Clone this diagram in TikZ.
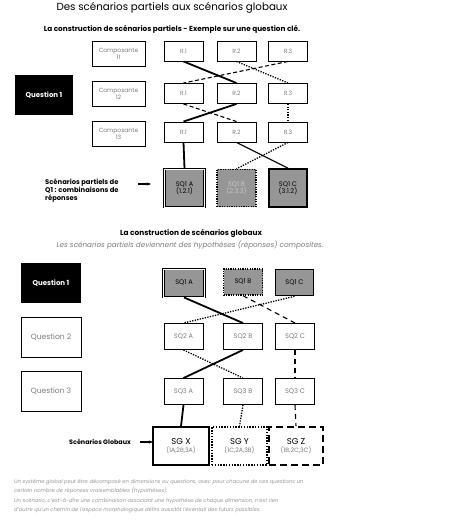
\documentclass[tikz,border=0pt]{standalone}
\usepackage{fontspec}
\setmainfont{Poppins}
\usepackage{tikz}
\usetikzlibrary{arrows.meta}
\definecolor{sqgray}{RGB}{150,150,150}
\definecolor{txtgray}{RGB}{125,125,125}
\definecolor{paletxt}{RGB}{200,200,200}

\begin{document}
\begin{tikzpicture}[x=1pt, y=-1pt,
    box/.style={draw, line width=0.9pt, fill=white, inner sep=0pt, align=center,
      text=txtgray, font=\fontsize{6}{7}\selectfont},
    compbox/.style={box, minimum width=53pt, minimum height=25pt},
    rbox/.style={box, minimum width=39pt, minimum height=20pt},
    qbox/.style={box, minimum width=60pt, minimum height=40pt, font=\fontsize{7.6}{8.6}\selectfont},
    qdark/.style={fill=black, text=white, inner sep=0pt, minimum width=58pt, minimum height=40pt,
      font=\bfseries\fontsize{7}{8}\selectfont},
    sqbox/.style={box, fill=sqgray, text=black, line width=1.6pt, font=\fontsize{6.6}{7.4}\selectfont},
    sqdouble/.style={sqbox, line width=0.9pt, double=white, double distance=0.6pt},
    sqdot/.style={sqbox, line width=1.4pt, dash pattern=on 1.2pt off 1.2pt, text=paletxt},
    sgbox/.style={box, line width=1.6pt, minimum height=38pt, text=black,
      font=\fontsize{8.5}{9.5}\selectfont},
    apath/.style={line width=1.8pt},
    bpath/.style={line width=1.3pt, dash pattern=on 1.3pt off 1.3pt},
    cpath/.style={line width=1.1pt, dash pattern=on 4pt off 2.5pt},
    lbl/.style={inner sep=0pt, align=left, font=\bfseries\fontsize{6.8}{8}\selectfont},
    note/.style={inner sep=0pt, align=left, text=txtgray!80!white, font=\itshape\fontsize{5.2}{9.5}\selectfont}]

  \useasboundingbox (0,0) rectangle (450,521);

  % Titles
  \node[font=\fontsize{10.3}{11}\selectfont] (title) at (172,8) {Des scénarios partiels aux scénarios globaux};
  \node[font=\bfseries\fontsize{7.3}{8}\selectfont] (sub1) at (172,29)
    {La construction de scénarios partiels - Exemple sur une question clé.};

  % Partial scenarios: components and answers
  \node[qdark] (qun) at (44,95) {Question 1};
  \foreach \r/\y/\ry in {a/54/51, b/94/93.5, c/134/132} {
    \node[rbox] (\r1) at (183.5,\ry) {R.1};
    \node[rbox] (\r2) at (236.5,\ry) {R.2};
    \node[rbox] (\r3) at (288,\ry) {R.3};
  }
  \node[compbox] (comp11) at (118.5,54) {Composante\\11};
  \node[compbox] (comp12) at (118.5,94) {Composante\\12};
  \node[compbox] (comp13) at (118.5,134) {Composante\\13};

  \node[sqdouble, minimum width=40pt, minimum height=38pt] (sqa) at (184.5,188) {SQ1 A\\(1.2.1)};
  \node[sqdot, minimum width=39pt, minimum height=37pt] (sqb) at (236.5,188) {SQ1 B\\(2.3.3)};
  \node[sqbox, minimum width=38pt, minimum height=38pt] (sqc) at (288,188) {SQ1 C\\(3.1.2)};

  % paths
  \draw[apath] (a1.south) -- (b2.north);
  \draw[apath] (b2.south) -- (c1.north);
  \draw[apath] (c1.south) -- (sqa.north);
  \draw[bpath] (a2.south) -- (b3.north);
  \draw[bpath] (b3.south) -- (c3.north);
  \draw[bpath] (c3.south) -- (sqb.north);
  \draw[cpath] (a3.south) -- (b1.north);
  \draw[cpath] (b1.south) -- (c2.north);
  \draw[line width=1.2pt] (c2.south) -- (sqc.north);

  \node[lbl, anchor=west] (partlbl) at (45,191) {Scénarios partiels de\\Q1 : combinaisons de\\réponses};
  \coordinate (pa) at (138,184);
  \coordinate (pb) at (151,184);
  \draw[line width=1.3pt, -{Stealth[length=4pt]}] (pa) -- (pb);

  % Global scenarios
  \node[font=\bfseries\fontsize{7.4}{8}\selectfont] (sub2) at (191,233) {La construction de scénarios globaux};
  \node[font=\itshape\fontsize{7.2}{8}\selectfont, text=txtgray] (sub3) at (190,245)
    {Les scénarios partiels deviennent des hypothèses (réponses) composites.};

  \node[qdark, minimum width=60pt] (q1) at (51,283) {Question 1};
  \node[qbox] (q2) at (51,337.5) {Question 2};
  \node[qbox] (q3) at (51,391.5) {Question 3};

  \node[sqdouble, minimum width=41pt, minimum height=28pt] (g1a) at (184,283) {SQ1 A};
  \node[sqdot, minimum width=39pt, minimum height=26pt, text=black] (g1b) at (243,282) {SQ1 B};
  \node[sqbox, minimum width=38pt, minimum height=26pt] (g1c) at (294.5,282.5) {SQ1 C};
  \foreach \n/\y in {2/336.5, 3/391.5} {
    \node[rbox, minimum height=26pt, font=\fontsize{6.6}{7.4}\selectfont] (g\n a) at (183.5,\y) {SQ\n\ A};
    \node[rbox, minimum height=26pt, font=\fontsize{6.6}{7.4}\selectfont] (g\n b) at (243,\y) {SQ\n\ B};
    \node[rbox, minimum height=26pt, font=\fontsize{6.6}{7.4}\selectfont] (g\n c) at (295,\y) {SQ\n\ C};
  }

  \node[sgbox, minimum width=56pt] (sgx) at (181,446) {SG X\\[-1pt]{\color{txtgray}\fontsize{6.2}{7}\selectfont(1A,2B,3A)}};
  \node[sgbox, minimum width=55pt, dash pattern=on 1.4pt off 1.4pt] (sgy) at (239.5,446) {SG Y\\[-1pt]{\color{txtgray}\fontsize{6.2}{7}\selectfont(1C,2A,3B)}};
  \node[sgbox, minimum width=54pt, dash pattern=on 7pt off 4pt] (sgz) at (296,446) {SG Z\\[-1pt]{\color{txtgray}\fontsize{6.2}{7}\selectfont(1B,2C,3C)}};

  % paths
  \draw[apath] (g1a.south) -- (g2b.north);
  \draw[apath] (g2b.south) -- (g3a.north);
  \draw[apath] (g3a.south) -- (sgx.north);
  \draw[bpath] (g1c.south) -- (g2a.north);
  \draw[bpath] (g2a.south) -- (g3b.north);
  \draw[bpath] (g3b.south) -- (sgy.north);
  \draw[cpath, dash pattern=on 5pt off 4pt] (g1b.south) -- (g2c.north);
  \draw[cpath, dash pattern=on 5pt off 4pt] (g2c.south) -- (g3c.north);
  \draw[cpath, dash pattern=on 5pt off 4pt] (g3c.south) -- (sgz.north);

  \node[lbl, anchor=west, font=\bfseries\fontsize{6.4}{7}\selectfont] (globlbl) at (69,442) {Scénarios Globaux};
  \coordinate (ga) at (140,442);
  \coordinate (gb) at (153,442);
  \draw[line width=1.3pt, -{Stealth[length=4pt]}] (ga) -- (gb);

  % Note
  \node[note, anchor=north west] (notes) at (14,479)
    {Un système global peut être décomposé en dimensions ou questions, avec pour chacune de ces questions un\\
     certain nombre de réponses vraisemblables (hypothèses).\\
     Un scénario, c'est-à-dire une combinaison associant une hypothèse de chaque dimension, n'est rien\\
     d'autre qu'un chemin de l'espace morphologique défini aussitôt l'éventail des futurs possibles.};
\end{tikzpicture}
\end{document}
